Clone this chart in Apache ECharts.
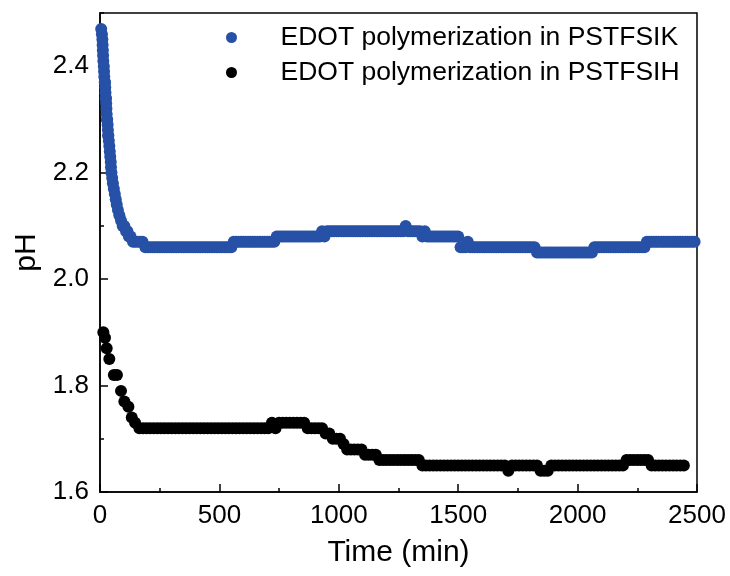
<!DOCTYPE html>
<html>
<head>
<meta charset="utf-8">
<script src="https://cdn.jsdelivr.net/npm/echarts@6/dist/echarts.min.js"></script>
<style>html,body{margin:0;padding:0;background:#fff}#c{width:730px;height:576px}</style>
</head>
<body>
<div id="c"></div>
<script>
// ---- data ----
const seriesNames = ['EDOT polymerization in PSTFSIK', 'EDOT polymerization in PSTFSIH'];
const xTickLabels = ['0', '500', '1000', '1500', '2000', '2500'];
const yTickLabels = ['1.6', '1.8', '2.0', '2.2', '2.4'];

// PSTFSIK (blue): time in min
const blueTime = [
  5,8,10,11,12,13,14,16,17,18,
  20,21,22,23,24,25,26,27,28,29,30,
  32,33,34,35,37,39,41,43,45,46,48,
  51,54,58,62,66,70,75,81,88,95,
  102,109,115,121,128,138,148,158,168,178,
  190,200,210,220,230,240,250,260,270,280,
  290,300,310,320,330,340,350,360,370,380,
  390,400,410,420,430,440,450,460,470,480,
  490,500,510,520,530,540,550,560,570,580,
  590,600,610,620,630,640,650,660,670,680,
  690,700,710,720,730,740,750,760,770,780,
  790,800,810,820,830,840,850,860,870,880,
  890,900,910,920,930,940,950,960,970,980,
  990,1000,1010,1020,1030,1040,1050,1060,1070,1080,
  1090,1100,1110,1120,1130,1140,1150,1160,1170,1180,
  1190,1200,1210,1220,1230,1240,1250,1260,1270,1280,
  1290,1300,1310,1320,1330,1340,1350,1360,1370,1380,
  1390,1400,1410,1420,1430,1440,1450,1460,1470,1480,
  1490,1500,1510,1520,1530,1540,1550,1560,1570,1580,
  1590,1600,1610,1620,1630,1640,1650,1660,1670,1680,
  1690,1700,1710,1720,1730,1740,1750,1760,1770,1780,
  1790,1800,1810,1820,1830,1840,1850,1860,1870,1880,
  1890,1900,1910,1920,1930,1940,1950,1960,1970,1980,
  1990,2000,2010,2020,2030,2040,2050,2060,2070,2080,
  2090,2100,2110,2120,2130,2140,2150,2160,2170,2180,
  2190,2200,2210,2220,2230,2240,2250,2260,2270,2280,
  2290,2300,2310,2320,2330,2340,2350,2360,2370,2380,
  2390,2400,2410,2420,2430,2440,2450,2460,2470,2480,
  2490
];
const bluePH = [
  2.47,2.46,2.45,2.44,2.43,2.42,2.41,2.40,2.39,2.38,
  2.37,2.37,2.36,2.35,2.34,2.34,2.33,2.32,2.31,2.30,2.30,
  2.29,2.28,2.27,2.27,2.26,2.25,2.24,2.23,2.22,2.21,2.20,
  2.19,2.18,2.17,2.16,2.15,2.14,2.13,2.12,2.11,2.10,
  2.10,2.09,2.09,2.08,2.08,2.07,2.07,2.07,2.07,2.07,
  2.06,2.06,2.06,2.06,2.06,2.06,2.06,2.06,2.06,2.06,
  2.06,2.06,2.06,2.06,2.06,2.06,2.06,2.06,2.06,2.06,
  2.06,2.06,2.06,2.06,2.06,2.06,2.06,2.06,2.06,2.06,
  2.06,2.06,2.06,2.06,2.06,2.06,2.06,2.07,2.07,2.07,
  2.07,2.07,2.07,2.07,2.07,2.07,2.07,2.07,2.07,2.07,
  2.07,2.07,2.07,2.07,2.07,2.08,2.08,2.08,2.08,2.08,
  2.08,2.08,2.08,2.08,2.08,2.08,2.08,2.08,2.08,2.08,
  2.08,2.08,2.08,2.08,2.09,2.08,2.09,2.09,2.09,2.09,
  2.09,2.09,2.09,2.09,2.09,2.09,2.09,2.09,2.09,2.09,
  2.09,2.09,2.09,2.09,2.09,2.09,2.09,2.09,2.09,2.09,
  2.09,2.09,2.09,2.09,2.09,2.09,2.09,2.09,2.09,2.10,
  2.09,2.09,2.09,2.09,2.09,2.09,2.08,2.09,2.08,2.08,
  2.08,2.08,2.08,2.08,2.08,2.08,2.08,2.08,2.08,2.08,
  2.08,2.08,2.06,2.06,2.06,2.07,2.06,2.06,2.06,2.06,
  2.06,2.06,2.06,2.06,2.06,2.06,2.06,2.06,2.06,2.06,
  2.06,2.06,2.06,2.06,2.06,2.06,2.06,2.06,2.06,2.06,
  2.06,2.06,2.06,2.06,2.05,2.05,2.05,2.05,2.05,2.05,
  2.05,2.05,2.05,2.05,2.05,2.05,2.05,2.05,2.05,2.05,
  2.05,2.05,2.05,2.05,2.05,2.05,2.05,2.05,2.06,2.06,
  2.06,2.06,2.06,2.06,2.06,2.06,2.06,2.06,2.06,2.06,
  2.06,2.06,2.06,2.06,2.06,2.06,2.06,2.06,2.06,2.06,
  2.07,2.07,2.07,2.07,2.07,2.07,2.07,2.07,2.07,2.07,
  2.07,2.07,2.07,2.07,2.07,2.07,2.07,2.07,2.07,2.07,
  2.07
];

// PSTFSIH (black): time in min
const blackTime = [
  14,21,28,39,58,71,88,102,119,133,147,
  165,180,195,210,225,240,255,270,285,300,
  315,330,345,360,375,390,405,420,435,450,
  465,480,495,510,525,540,555,570,585,600,
  615,630,645,660,675,690,705,720,735,750,
  765,780,795,810,825,840,855,870,885,900,
  915,930,945,960,975,990,1005,1020,1035,1050,
  1065,1080,1095,1110,1125,1140,1155,1170,1185,1200,
  1215,1230,1245,1260,1275,1290,1305,1320,1335,1350,
  1365,1380,1395,1410,1425,1440,1455,1470,1485,1500,
  1515,1530,1545,1560,1575,1590,1605,1620,1635,1650,
  1665,1680,1695,1710,1725,1740,1755,1770,1785,1800,
  1815,1830,1845,1860,1875,1890,1905,1920,1935,1950,
  1965,1980,1995,2010,2025,2040,2055,2070,2085,2100,
  2115,2130,2145,2160,2175,2190,2205,2220,2235,2250,
  2265,2280,2295,2310,2325,2340,2355,2370,2385,2400,
  2415,2430,2445
];
const blackPH = [
  1.90,1.89,1.87,1.85,1.82,1.82,1.79,1.77,1.76,1.74,1.73,
  1.72,1.72,1.72,1.72,1.72,1.72,1.72,1.72,1.72,1.72,
  1.72,1.72,1.72,1.72,1.72,1.72,1.72,1.72,1.72,1.72,
  1.72,1.72,1.72,1.72,1.72,1.72,1.72,1.72,1.72,1.72,
  1.72,1.72,1.72,1.72,1.72,1.72,1.72,1.73,1.72,1.73,
  1.73,1.73,1.73,1.73,1.73,1.73,1.73,1.72,1.72,1.72,
  1.72,1.72,1.71,1.71,1.70,1.70,1.70,1.69,1.68,1.68,
  1.68,1.68,1.68,1.67,1.67,1.67,1.67,1.66,1.66,1.66,
  1.66,1.66,1.66,1.66,1.66,1.66,1.66,1.66,1.66,1.65,
  1.65,1.65,1.65,1.65,1.65,1.65,1.65,1.65,1.65,1.65,
  1.65,1.65,1.65,1.65,1.65,1.65,1.65,1.65,1.65,1.65,
  1.65,1.65,1.65,1.64,1.65,1.65,1.65,1.65,1.65,1.65,
  1.65,1.65,1.64,1.64,1.64,1.65,1.65,1.65,1.65,1.65,
  1.65,1.65,1.65,1.65,1.65,1.65,1.65,1.65,1.65,1.65,
  1.65,1.65,1.65,1.65,1.65,1.65,1.66,1.66,1.66,1.66,
  1.66,1.66,1.66,1.65,1.65,1.65,1.65,1.65,1.65,1.65,
  1.65,1.65,1.65
];

// ---- chart ----
const FONT = "'Liberation Sans', Arial, Helvetica, sans-serif";
const blueColor = '#2651A6';
const zip = (t, v) => t.map((x, i) => [x, v[i]]);

const chart = echarts.init(document.getElementById('c'), null, {renderer: 'canvas'});
chart.setOption({
  animation: false,
  backgroundColor: '#fff',
  grid: {left: 100, right: 33, top: 13, bottom: 84, show: true, borderColor: '#000', borderWidth: 1.5, backgroundColor: 'transparent'},
  legend: {
    orient: 'vertical', left: 221, top: 19,
    itemWidth: 88, itemHeight: 11, itemGap: 8, icon: 'circle',
    textStyle: {fontFamily: FONT, fontSize: 26.5, color: '#000', lineHeight: 26, padding: [0,0,0,0]},
    data: seriesNames
  },
  xAxis: {
    type: 'value', min: 0, max: 2500, interval: 500,
    name: 'Time (min)', nameLocation: 'middle', nameGap: 46,
    nameTextStyle: {fontFamily: FONT, fontSize: 30, color: '#000'},
    axisLine: {show: true, lineStyle: {color: '#000', width: 1.5}},
    axisTick: {show: true, inside: true, length: 8, lineStyle: {color: '#000', width: 1.5}},
    minorTick: {show: true, splitNumber: 2, length: 4, lineStyle: {color: '#000', width: 1.5}},
    splitLine: {show: false},
    axisLabel: {fontFamily: FONT, fontSize: 26, color: '#000', margin: 11,
      formatter: (v) => xTickLabels.indexOf(String(v)) >= 0 ? String(v) : ''}
  },
  yAxis: [{
    type: 'value', min: 1.6, max: 2.5, interval: 0.2,
    name: 'pH', nameLocation: 'middle', nameGap: 58, nameRotate: 90,
    nameTextStyle: {fontFamily: FONT, fontSize: 30, color: '#000'},
    axisLine: {show: true, lineStyle: {color: '#000', width: 1.5}},
    axisTick: {show: true, inside: true, length: 8, lineStyle: {color: '#000', width: 1.5}},
    splitLine: {show: false},
    axisLabel: {fontFamily: FONT, fontSize: 26, color: '#000', margin: 11, showMaxLabel: false,
      formatter: (v) => { const s = v.toFixed(1); return yTickLabels.indexOf(s) >= 0 ? s : ''; }}
  }, {
    type: 'value', min: 1.6, max: 2.5, interval: 0.1, position: 'left',
    axisLine: {show: false},
    axisTick: {show: true, inside: true, length: 4, lineStyle: {color: '#000', width: 1.5}},
    axisLabel: {show: false}, splitLine: {show: false}
  }],
  series: [{
    name: seriesNames[0], type: 'scatter', yAxisIndex: 0,
    symbol: 'circle', symbolSize: 12,
    itemStyle: {color: blueColor, opacity: 1},
    data: zip(blueTime, bluePH)
  }, {
    name: seriesNames[1], type: 'scatter', yAxisIndex: 0,
    symbol: 'circle', symbolSize: 12,
    itemStyle: {color: '#000', opacity: 1},
    data: zip(blackTime, blackPH)
  }]
});
</script>
</body>
</html>
